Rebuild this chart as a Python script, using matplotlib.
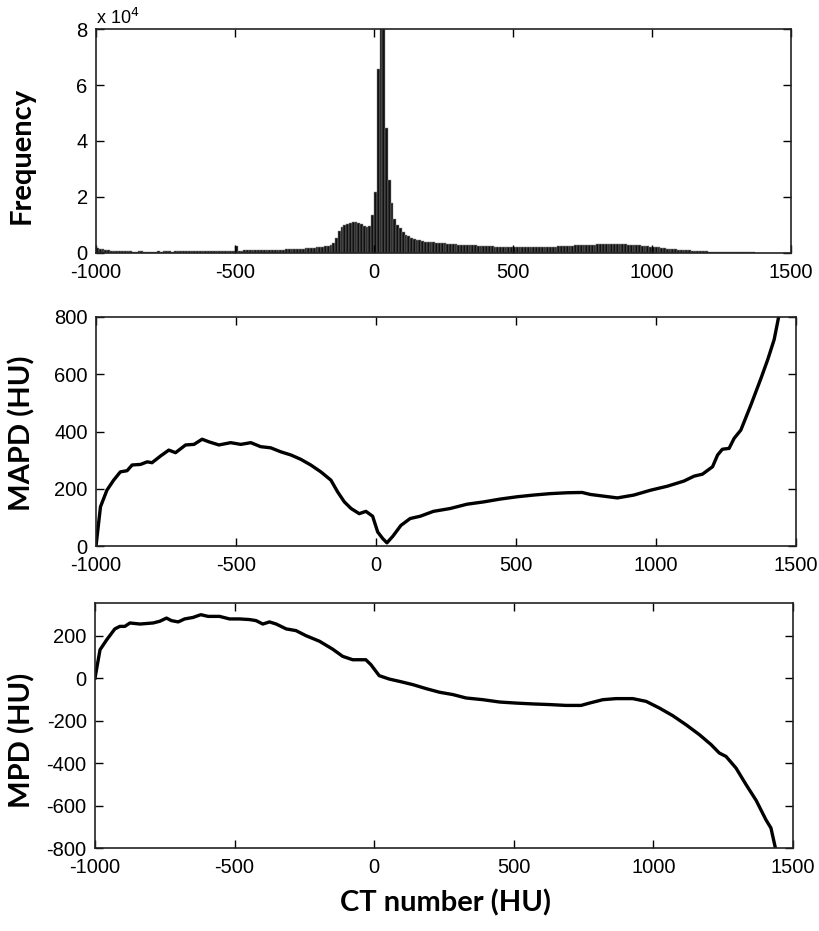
import numpy as np
import matplotlib
matplotlib.use("Agg")
import matplotlib.pyplot as plt

plt.rcParams["font.family"] = ["Liberation Sans", "DejaVu Sans"]
plt.rcParams["axes.unicode_minus"] = False

# histogram of CT numbers, bins of 10 HU starting at -1000 (counts in thousands)
hist_start = -1000
hist_width = 10
hist_k = [
    1.8, 1.6, 1.3, 1.1, 0.9, 0.8, 0.8, 0.7, 0.7, 0.7,
    0.6, 0.6, 0.6, 0.5, 0.5, 0.6, 0.6, 0.5, 0.5, 0.5,
    0.5, 0.5, 0.6, 0.5, 0.6, 0.6, 0.6, 0.5, 0.6, 0.6,
    0.6, 0.6, 0.6, 0.7, 0.6, 0.7, 0.7, 0.6, 0.7, 0.7,
    0.7, 0.7, 0.7, 0.8, 0.7, 0.8, 0.8, 0.8, 0.8, 0.8,
    2.5, 0.8, 0.8, 0.9, 0.9, 0.9, 0.9, 0.9, 1.0, 1.0,
    1.0, 1.0, 1.1, 1.1, 1.1, 1.2, 1.2, 1.2, 1.3, 1.3,
    1.4, 1.4, 1.5, 1.5, 1.6, 1.7, 1.7, 1.8, 1.9, 2.0,
    2.1, 2.2, 2.4, 2.6, 3.0, 3.6, 5.5, 8.0, 9.4, 10.1,
    10.5, 10.8, 10.9, 10.9, 10.7, 10.2, 9.6, 9.2, 9.8, 13.5,
    21.8, 65.7, 120.0, 110.0, 44.6, 26.0, 18.0, 12.0, 10.0, 8.8,
    7.6, 6.6, 5.9, 5.4, 5.0, 4.7, 4.5, 4.3, 4.1, 4.0,
    3.9, 3.8, 3.7, 3.6, 3.5, 3.4, 3.3, 3.2, 3.2, 3.1,
    3.0, 3.0, 2.9, 2.8, 2.8, 2.7, 2.7, 2.6, 2.6, 2.5,
    2.5, 2.4, 2.4, 2.3, 2.3, 2.3, 2.2, 2.2, 2.2, 2.1,
    2.1, 2.1, 2.0, 2.0, 2.0, 2.0, 2.0, 2.0, 2.0, 2.1,
    2.1, 2.1, 2.2, 2.2, 2.3, 2.3, 2.4, 2.4, 2.5, 2.5,
    2.6, 2.6, 2.7, 2.7, 2.8, 2.8, 2.9, 2.9, 3.0, 3.0,
    3.1, 3.1, 3.1, 3.2, 3.2, 3.2, 3.2, 3.2, 3.2, 3.1,
    3.1, 3.0, 3.0, 2.9, 2.8, 2.7, 2.6, 2.5, 2.4, 2.3,
    2.2, 2.1, 2.0, 1.9, 1.8, 1.6, 1.5, 1.4, 1.3, 1.2,
    1.1, 1.0, 0.9, 0.9, 0.8, 0.8, 0.7, 0.7, 0.6, 0.6,
    0.5, 0.5, 0.5, 0.4, 0.4, 0.4, 0.4, 0.3, 0.3, 0.3,
    0.3, 0.3, 0.3, 0.2, 0.2, 0.2, 0.2,
]

# mean absolute percentage difference vs CT number
mapd_x = [-1000, -984, -961, -937, -913, -889, -871, -841, -817, -800, -770,
          -740, -716, -680, -650, -621, -597, -561, -519, -483, -447, -412,
          -376, -340, -304, -269, -233, -197, -161, -137, -113, -89, -60,
          -36, -12, 6, 24, 39, 60, 89, 122, 158, 205, 265, 325, 384, 444,
          504, 563, 623, 683, 736, 766, 814, 862, 921, 981, 1041, 1100,
          1136, 1166, 1202, 1220, 1237, 1261, 1279, 1303, 1339, 1375, 1399,
          1422, 1438]
mapd_y = [0, 137, 195, 230, 259, 263, 283, 285, 294, 291, 314,
          335, 326, 353, 355, 373, 364, 353, 361, 355, 361, 347,
          343, 329, 318, 303, 283, 259, 230, 189, 154, 131, 113,
          121, 104, 49, 26, 11, 34, 72, 96, 104, 121, 131, 146, 154, 164,
          172, 178, 183, 186, 187, 180, 174, 168, 178, 195, 209, 227,
          244, 251, 277, 318, 338, 341, 376, 405, 493, 586, 651,
          721, 800]

# mean percentage difference vs CT number
mpd_x = [-1000, -982, -958, -929, -911, -893, -875, -839, -792, -768, -744,
         -726, -702, -679, -649, -621, -595, -554, -518, -482, -446, -423,
         -399, -375, -351, -315, -280, -244, -196, -149, -113, -77, -30,
         -12, 18, 54, 91, 138, 186, 234, 282, 329, 389, 449, 508, 568, 628,
         687, 741, 771, 819, 866, 926, 974, 1021, 1069, 1117, 1165, 1207,
         1236, 1260, 1296, 1332, 1368, 1403, 1421, 1437]
mpd_y = [0, 133, 180, 231, 243, 243, 259, 254, 259, 267, 282,
         270, 264, 278, 285, 298, 290, 290, 278, 278, 275, 270,
         254, 264, 254, 231, 223, 199, 173, 136, 102, 86, 86,
         63, 11, -5, -16, -31, -50, -67, -78, -94, -102, -113, -118, -122, -125,
         -129, -129, -118, -102, -97, -97, -110, -141, -177, -220, -267, -314,
         -353, -369, -424, -502, -576, -667, -706, -800]

x_ticks = [-1000, -500, 0, 500, 1000, 1500]
freq_ticks = [0, 20000, 40000, 60000, 80000]
freq_labels = ["0", "2", "4", "6", "8"]
mapd_ticks = [0, 200, 400, 600, 800]
mpd_ticks = [-800, -600, -400, -200, 0, 200]

label_font = "Lato"


def style_axes(ax):
    ax.set_xlim(-1000, 1500)
    ax.set_xticks(x_ticks)
    ax.tick_params(direction="in", length=6, width=1.0, top=True, right=True,
                   labelsize=14.5, colors="black")
    ax.tick_params(axis="x", pad=7)
    ax.tick_params(axis="y", pad=6)
    for sp in ax.spines.values():
        sp.set_linewidth(1.2)
        sp.set_color("#222222")


fig = plt.figure(figsize=(8.19, 9.31), dpi=100)
W, H = 819.0, 931.0

# top: histogram
ax1 = fig.add_axes([96 / W, 1 - 253 / H, 695 / W, 224 / H])
counts = np.array(hist_k) * 1000
edges = hist_start + hist_width * np.arange(len(counts))
ax1.bar(edges, counts, width=hist_width, align="edge", color="#111111",
        edgecolor="#8a8a8a", linewidth=0.35)
ax1.set_ylim(0, 80000)
ax1.set_yticks(freq_ticks)
ax1.set_yticklabels(freq_labels)
style_axes(ax1)
ax1.text(0.0, 1.005, "x 10$^4$", transform=ax1.transAxes, ha="left", va="bottom",
         fontsize=13)

# middle: MAPD
ax2 = fig.add_axes([96 / W, 1 - 546 / H, 700 / W, 229 / H])
ax2.plot(mapd_x, mapd_y, color="black", linewidth=2.4)
ax2.set_ylim(0, 800)
ax2.set_yticks(mapd_ticks)
style_axes(ax2)

# bottom: MPD
ax3 = fig.add_axes([95 / W, 1 - 848 / H, 698 / W, 245 / H])
ax3.plot(mpd_x, mpd_y, color="black", linewidth=2.4)
ax3.set_ylim(-800, 353)
ax3.set_yticks(mpd_ticks)
style_axes(ax3)

# axis titles
lab_kw = dict(fontsize=21, fontweight="bold", family=label_font, rotation=90,
              ha="center", va="center")
fig.text(22 / W, 1 - 155 / H, "Frequency", **lab_kw)
fig.text(22 / W, 1 - 433 / H, "MAPD (HU)", **lab_kw)
fig.text(22 / W, 1 - 740 / H, "MPD (HU)", **lab_kw)
fig.text(446 / W, 1 - 903 / H, "CT number (HU)", fontsize=21, fontweight="bold",
         family=label_font, ha="center", va="center")

fig.savefig("out.png", dpi=100)
